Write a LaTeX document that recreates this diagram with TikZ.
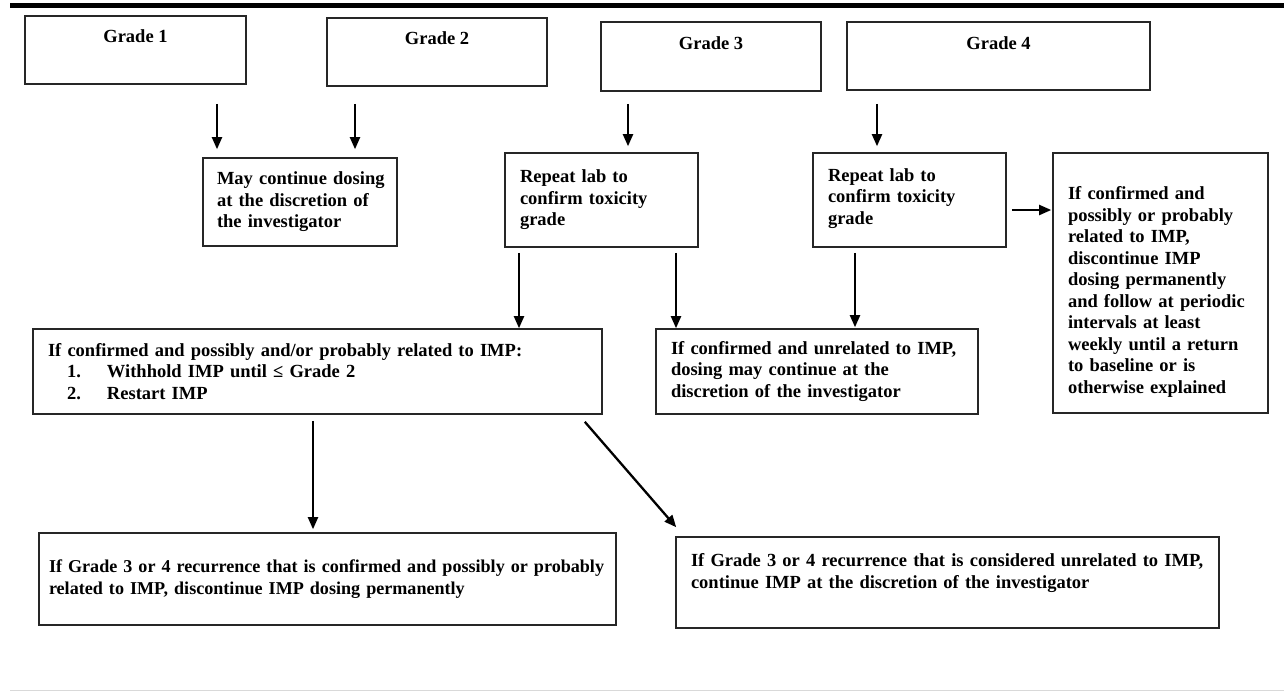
\documentclass[tikz,border=0pt]{standalone}
\usepackage{fontspec}
\setmainfont{Liberation Serif}
\usetikzlibrary{arrows.meta}
\hyphenpenalty=10000
\exhyphenpenalty=10000

\begin{document}
\begin{tikzpicture}
 [x=1pt,y=-1pt,
  box/.style={draw=black!85,line width=1.6pt,inner xsep=15pt,inner ysep=0pt,align=left,font=\bfseries\fontsize{18.5}{21.5}\selectfont},
  gradebox/.style={draw=black!85,line width=1.6pt,inner sep=0pt,align=center,font=\bfseries\fontsize{18.5}{21.5}\selectfont},
  arr/.style={-{Triangle[width=10pt,length=12pt]},line width=2pt}]
  \useasboundingbox (0,0) rectangle (1284,691);
  \draw[line width=5.5pt] (10,5.5) -- (1284,5.5);
  \draw[black!15,line width=1pt] (10,690) -- (1284,690);
  % grades
  \node[gradebox,minimum width=221pt,text height=26pt,text depth=42pt] (g1) at (135.5,50) {Grade 1};
  \node[gradebox,minimum width=220pt,text height=26pt,text depth=42pt] (g2) at (437,52) {Grade 2};
  \node[gradebox,minimum width=220pt,text height=27pt,text depth=42pt] (g3) at (711,56.5) {Grade 3};
  \node[gradebox,minimum width=303pt,text height=27pt,text depth=41pt] (g4) at (998.5,56) {Grade 4};
  % first step
  \node[box,inner xsep=14pt,minimum width=194pt,minimum height=88pt,text width=166pt] (cont) at (300,202) {May~continue~dosing\\at the discretion of\\the investigator};
  \node[box,minimum width=193pt,minimum height=94pt,text width=163pt] (rep3) at (601.5,200) {Repeat lab to\\confirm toxicity\\grade};
  \node[box,minimum width=193pt,minimum height=94pt,text width=163pt,text depth=50pt] (rep4) at (909.5,200) {Repeat lab to\\confirm toxicity\\grade};
  \node[box,minimum width=215pt,minimum height=260pt,text width=185pt,text height=31pt] (stop4) at (1160.5,283) {If confirmed and\\possibly or probably\\related to IMP,\\discontinue IMP\\dosing permanently\\and follow at periodic\\intervals at least\\weekly until a return\\to baseline or is\\otherwise explained};
  % second step
  \node[box,minimum width=569pt,minimum height=85pt,text width=539pt] (wh3) at (317.5,371.5) {If confirmed and possibly and/or probably related to IMP:\\\hspace*{19pt}\makebox[40pt][l]{1.}Withhold IMP until ≤ Grade 2\\\hspace*{19pt}\makebox[40pt][l]{2.}Restart IMP};
  \node[box,minimum width=322pt,minimum height=85pt,text width=292pt] (unrel) at (817,371.5) {If confirmed and unrelated to IMP,\\dosing may continue at the\\discretion of the investigator};
  % recurrence
  \node[box,inner xsep=10pt,minimum width=577pt,minimum height=92pt,text width=557pt,font=\bfseries\fontsize{18.1}{21.5}\selectfont] (perm) at (327.5,579) {If~Grade~3~or~4~recurrence~that~is~confirmed~and~possibly~or~probably\\related to IMP, discontinue IMP dosing permanently};
  \node[box,minimum width=543pt,minimum height=91pt,text width=513pt,text depth=45pt] (again) at (947.5,582.5) {If Grade 3 or 4 recurrence that is considered unrelated to IMP,\\continue IMP at the discretion of the investigator};
  % arrows
  \draw[arr,shorten <=19pt,shorten >=8pt] (g1.south -| 217,0) -- (cont.north -| 217,0);
  \draw[arr,shorten <=17pt,shorten >=8pt] (g2.south -| 355,0) -- (cont.north -| 355,0);
  \draw[arr,shorten <=12pt,shorten >=6pt] (g3.south -| 628,0) -- (rep3.north -| 628,0);
  \draw[arr,shorten <=13pt,shorten >=6pt] (g4.south -| 877,0) -- (rep4.north -| 877,0);
  \draw[arr,shorten <=5pt,shorten >=1pt] (rep4.east |- 0,210) -- (stop4.west |- 0,210);
  \draw[arr,shorten <=5pt] (rep3.south -| 519,0) -- (wh3.north -| 519,0);
  \draw[arr,shorten <=5pt] (rep3.south -| 676,0) -- (unrel.north -| 676,0);
  \draw[arr,shorten <=5pt,shorten >=1pt] (rep4.south -| 855,0) -- (unrel.north -| 855,0);
  \draw[arr,shorten <=6pt,shorten >=3pt] (wh3.south -| 313,0) -- (perm.north -| 313,0);
  \draw[arr,line width=2.3pt] ([shift={(-18,7)}]wh3.south east) -- ([shift={(1,-9)}]again.north west);
\end{tikzpicture}
\end{document}
